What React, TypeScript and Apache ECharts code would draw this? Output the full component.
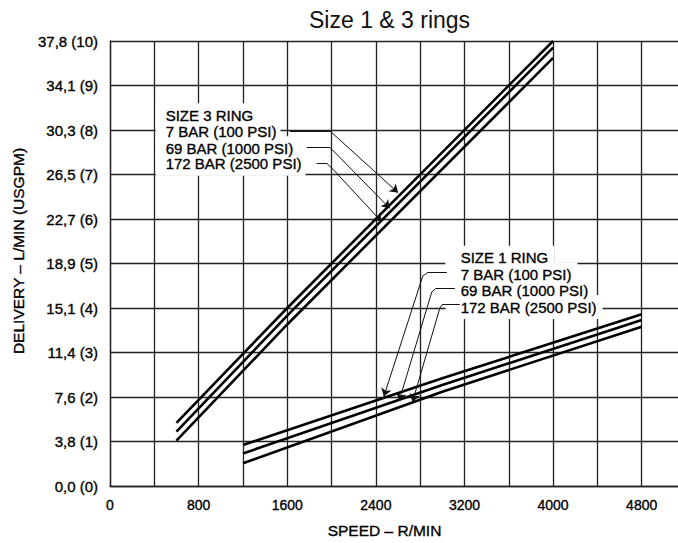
import React, { useEffect, useRef } from "react";
import * as echarts from "echarts";

// ---- axis ticks ----
const yTickLabels = [
  "0,0 (0)", "3,8 (1)", "7,6 (2)", "11,4 (3)", "15,1 (4)", "18,9 (5)",
  "22,7 (6)", "26,5 (7)", "30,3 (8)", "34,1 (9)", "37,8 (10)",
];
const xTickLabels = ["0", "800", "1600", "2400", "3200", "4000", "4800"];

// ---- series values: [speed r/min, delivery USGPM] ----
const size3Bar7 = [[600, 1.42], [1600, 4.0], [4000, 10.0]];
const size3Bar69 = [[600, 1.22], [1600, 3.83], [4000, 9.85]];
const size3Bar172 = [[600, 1.02], [1600, 3.63], [4000, 9.62]];

const size1Bar7 = [[1200, 0.92], [3000, 2.42], [4800, 3.86]];
const size1Bar69 = [[1200, 0.73], [3000, 2.27], [4800, 3.73]];
const size1Bar172 = [[1200, 0.51], [3000, 2.12], [4800, 3.58]];

// ---- annotation texts (anchor = left edge of the white box, data coords) ----
const size3Texts = [
  { text: "SIZE 3 RING", x: 412, y: 8.33 },
  { text: "7 BAR (100 PSI)", x: 412, y: 7.96 },
  { text: "69 BAR (1000 PSI)", x: 412, y: 7.59 },
  { text: "172 BAR (2500 PSI)", x: 412, y: 7.24 },
];
const size1Texts = [
  { text: "SIZE 1 RING", x: 3030, y: 5.13 },
  { text: "7 BAR (100 PSI)", x: 3030, y: 4.76 },
  { text: "69 BAR (1000 PSI)", x: 3030, y: 4.4 },
  { text: "172 BAR (2500 PSI)", x: 3030, y: 4.02 },
];

// ---- leader lines (last point = arrow tip) ----
const leaders = [
  [[1624, 7.98], [1985, 7.98], [2601, 6.59]],
  [[1775, 7.61], [1985, 7.61], [2526, 6.24]],
  [[1865, 7.25], [1958, 7.25], [2012, 7.12], [2452, 5.94]],
  [[3041, 4.8], [2869, 4.8], [2824, 4.72], [2472, 2.01]],
  [[3113, 4.44], [2941, 4.44], [2905, 4.36], [2610, 1.91]],
  [[3158, 4.09], [3005, 4.09], [2978, 4.0], [2731, 1.89]],
];

const FONT = "Liberation Sans, Arial, Helvetica, sans-serif";

export default function App() {
  const ref = useRef<HTMLDivElement>(null);
  useEffect(() => {
    const chart = echarts.init(ref.current!, null, { renderer: "svg" });

    const plainSegs: any[] = [];
    const arrowSegs: any[] = [];
    leaders.forEach((pts) => {
      for (let i = 0; i < pts.length - 1; i++) {
        const seg = { coords: [pts[i], pts[i + 1]] };
        if (i === pts.length - 2) arrowSegs.push(seg);
        else plainSegs.push(seg);
      }
    });

    const dataLine = (data: number[][]) => ({
      type: "line",
      data,
      symbol: "none",
      silent: true,
      z: 4,
      lineStyle: { color: "#000", width: 2.6 },
    });

    const textStyleCommon = {
      fontFamily: FONT,
      color: "#000",
      textBorderColor: "#000",
      textBorderWidth: 0.35,
    };

    chart.setOption({
      animation: false,
      backgroundColor: "#fff",
      title: {
        text: "Size 1 & 3 rings",
        left: 304,
        top: 3,
        textStyle: { fontFamily: FONT, fontSize: 23, fontWeight: "normal", color: "#111" },
      },
      grid: { left: 110, top: 41, right: -8, bottom: 57, containLabel: false, outerBoundsMode: "none" },
      xAxis: {
        type: "value",
        min: 0,
        max: 5200,
        interval: 400,
        axisLine: { show: true, lineStyle: { color: "#222", width: 1.3 } },
        axisTick: { show: false },
        splitLine: { show: true, lineStyle: { color: "#222", width: 1.3 } },
        axisLabel: {
          formatter: (v: number) => (xTickLabels.includes(String(v)) ? String(v) : ""),
          fontSize: 14,
          margin: 12,
          ...textStyleCommon,
        },
        name: "SPEED – R/MIN",
        nameLocation: "middle",
        nameGap: 36,
        nameTextStyle: { fontSize: 15.5, padding: [0, 27, 0, 0], ...textStyleCommon },
      },
      yAxis: {
        type: "value",
        min: 0,
        max: 10,
        interval: 1,
        axisLine: { show: true, lineStyle: { color: "#222", width: 1.3 } },
        axisTick: { show: false },
        splitLine: { show: true, lineStyle: { color: "#222", width: 1.3 } },
        axisLabel: {
          formatter: (v: number) => yTickLabels[Math.round(v)] ?? "",
          fontSize: 15,
          margin: 12,
          ...textStyleCommon,
        },
        name: "DELIVERY – L/MIN (USGPM)",
        nameLocation: "middle",
        nameGap: 80,
        nameTextStyle: { fontSize: 15.5, padding: [0, 0, 0, 25], ...textStyleCommon },
      },
      series: [
        dataLine(size3Bar7),
        dataLine(size3Bar69),
        dataLine(size3Bar172),
        dataLine(size1Bar7),
        dataLine(size1Bar69),
        dataLine(size1Bar172),
        {
          type: "lines",
          coordinateSystem: "cartesian2d",
          data: plainSegs,
          symbol: ["none", "none"],
          silent: true,
          z: 20,
          lineStyle: { color: "#111", width: 1, opacity: 1, curveness: 0 },
        },
        {
          type: "lines",
          coordinateSystem: "cartesian2d",
          data: arrowSegs,
          symbol: ["none", "arrow"],
          symbolSize: 8,
          silent: true,
          z: 20,
          lineStyle: { color: "#111", width: 1, opacity: 1, curveness: 0 },
        },
      ],
    });

    // pass 1: white boxes (text invisible), pass 2: text on top
    const mkTexts = (items: any[], padding: number[], boxes: boolean) =>
      items.map((t) => {
        const [px, py] = chart.convertToPixel({ gridIndex: 0 }, [t.x, t.y]) as number[];
        return {
          type: "text",
          x: px,
          y: py,
          z: boxes ? 9 : 10,
          silent: true,
          style: {
            text: t.text,
            fontFamily: FONT,
            fontSize: 15,
            fill: boxes ? "rgba(0,0,0,0)" : "#000",
            stroke: boxes ? "rgba(0,0,0,0)" : "#000",
            lineWidth: 0.35,
            align: "left",
            verticalAlign: "middle",
            backgroundColor: boxes ? "#fff" : "rgba(0,0,0,0)",
            padding,
          },
        };
      });

    chart.setOption({
      graphic: {
        elements: [
          ...mkTexts(size3Texts, [5, 4, 4, 10], true),
          ...mkTexts(size1Texts, [5, 6, 4, 15], true),
          ...mkTexts(size3Texts, [5, 4, 4, 10], false),
          ...mkTexts(size1Texts, [5, 6, 4, 15], false),
        ],
      },
    });

    return () => chart.dispose();
  }, []);
  return (
    <div
      ref={ref}
      style={{ position: "fixed", left: 0, top: 0, width: 678, height: 543, background: "#fff" }}
    />
  );
}
